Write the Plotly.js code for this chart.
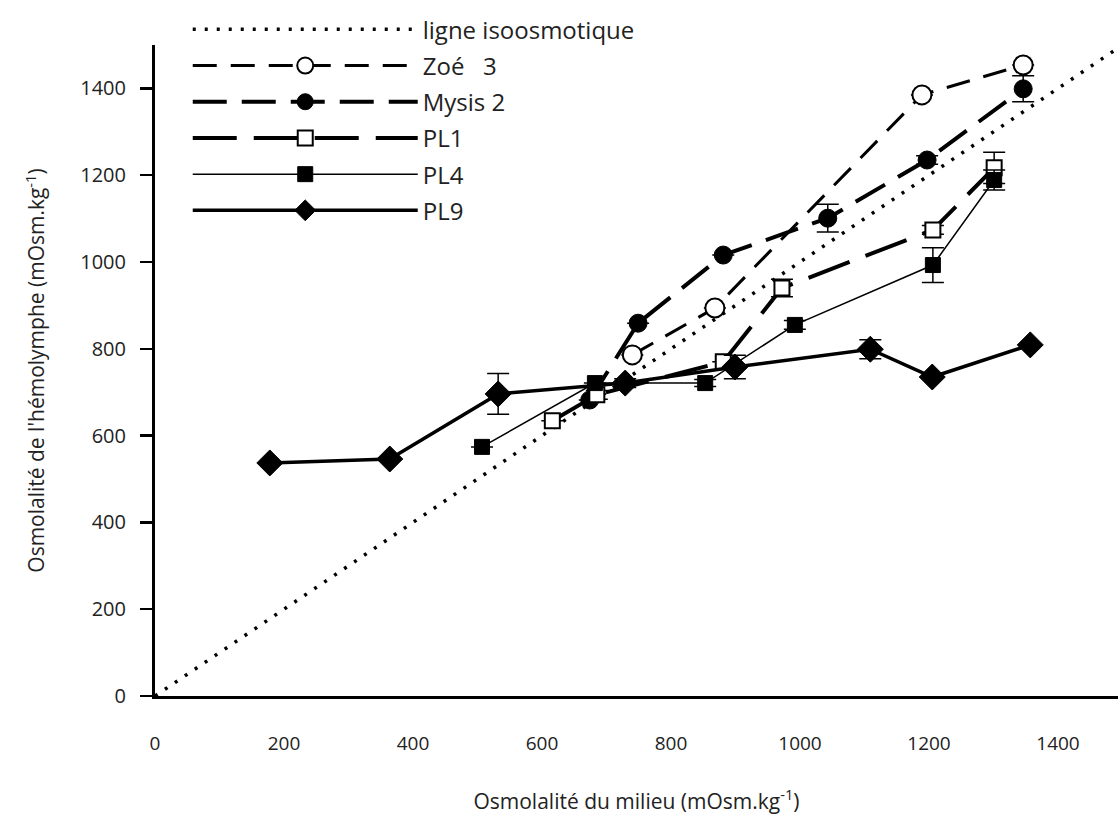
<!DOCTYPE html>
<html>
<head>
<meta charset="utf-8">
<script src="https://cdn.plot.ly/plotly-3.0.1.min.js"></script>
<style>html,body{margin:0;padding:0;background:#fff;}#chart{width:1118px;height:833px;}</style>
</head>
<body>
<div id="chart"></div>
<script>
// Isoosmotic line (y = x)
const isoX = [0, 1500];
const isoY = [0, 1500];

// Zoé 3
const zoeX = [740, 868, 1189, 1346];
const zoeY = [786, 894, 1385, 1454];
const zoeErr = [0, 0, 0, 0];

// Mysis 2
const mysisX = [674, 749, 881, 1043, 1197, 1346];
const mysisY = [682, 859, 1016, 1101, 1235, 1399];
const mysisErr = [0, 0, 0, 32, 10, 30];

// PL1
const pl1X = [616, 685, 881, 972, 1206, 1301];
const pl1Y = [634, 694, 770, 940, 1074, 1217];
const pl1Err = [0, 10, 0, 20, 10, 36];

// PL4
const pl4X = [507, 682, 853, 992, 1206, 1301];
const pl4Y = [574, 721, 721, 855, 993, 1189];
const pl4Err = [0, 0, 8, 10, 40, 23];

// PL9
const pl9X = [178, 364, 532, 729, 899, 1109, 1205, 1357];
const pl9Y = [537, 546, 696, 721, 758, 799, 735, 809];
const pl9Err = [0, 0, 47, 10, 27, 22, 0, 0];

const names = ['ligne isoosmotique', 'Zoé   3', 'Mysis 2', 'PL1', 'PL4', 'PL9'];
const xTicks = [0, 200, 400, 600, 800, 1000, 1200, 1400];
const yTicks = [0, 200, 400, 600, 800, 1000, 1200, 1400];

function err(arr) {
  return {type: 'data', array: arr, visible: true, color: '#000', thickness: 1.5, width: 11};
}

const traces = [
  {x: isoX, y: isoY, name: names[0], mode: 'lines', legendgroup: 'a',
   line: {color: '#000', width: 3.5, dash: '3px,9px'}},
  {x: zoeX, y: zoeY, name: names[1], mode: 'lines+markers', legendgroup: 'b',
   line: {color: '#000', width: 3, dash: '24px,14px'},
   marker: {symbol: 'circle', size: 19, color: '#fff', line: {color: '#000', width: 2}},
   error_y: err(zoeErr)},
  {x: mysisX, y: mysisY, name: names[2], mode: 'lines+markers', legendgroup: 'c',
   line: {color: '#000', width: 4, dash: '34px,15px'},
   marker: {symbol: 'circle', size: 18, color: '#000', line: {color: '#000', width: 1}},
   error_y: err(mysisErr)},
  {x: pl1X, y: pl1Y, name: names[3], mode: 'lines+markers', legendgroup: 'd',
   line: {color: '#000', width: 4, dash: '44px,17px'},
   marker: {symbol: 'square', size: 15, color: '#fff', line: {color: '#000', width: 2}},
   error_y: err(pl1Err)},
  {x: pl4X, y: pl4Y, name: names[4], mode: 'lines+markers', legendgroup: 'e',
   line: {color: '#000', width: 1.5},
   marker: {symbol: 'square', size: 15, color: '#000', line: {color: '#000', width: 1}},
   error_y: err(pl4Err)},
  {x: pl9X, y: pl9Y, name: names[5], mode: 'lines+markers', legendgroup: 'f',
   line: {color: '#000', width: 3.5},
   marker: {symbol: 'diamond', size: 20, color: '#000', line: {color: '#000', width: 1}},
   error_y: err(pl9Err)}
];

const layout = {
  width: 1118, height: 833,
  margin: {l: 155, r: 0, t: 45, b: 137},
  paper_bgcolor: '#fff', plot_bgcolor: '#fff',
  font: {family: 'Open Sans, sans-serif', color: '#222', size: 16},
  showlegend: true,
  legend: {x: 0.034, y: 1.058, xanchor: 'left', yanchor: 'top',
           bgcolor: 'rgba(0,0,0,0)', font: {size: 24, color: '#222'},
           itemwidth: 225, tracegroupgap: 2},
  xaxis: {
    range: [0, 1493], tickvals: xTicks, ticks: '', showgrid: false, zeroline: false,
    showline: true, linecolor: '#000', linewidth: 3, ticklabelstandoff: 28,
    tickfont: {size: 19, color: '#222'},
    title: {text: 'Osmolalité du milieu (mOsm.kg<sup>-1</sup>)', font: {size: 21, color: '#222'}, standoff: 40}
  },
  yaxis: {
    range: [0, 1500], tickvals: yTicks, ticks: 'outside', ticklen: 12, tickwidth: 2.5, tickcolor: '#000',
    showgrid: false, zeroline: false, showline: true, linecolor: '#000', linewidth: 3,
    ticklabelstandoff: 10, tickfont: {size: 20, color: '#222'},
    title: {text: "Osmolalité de l'hémolymphe (mOsm.kg<sup>-1</sup>)", font: {size: 21, color: '#222'}, standoff: 30}
  }
};

Plotly.newPlot('chart', traces, layout, {displayModeBar: false, staticPlot: true});
</script>
</body>
</html>
